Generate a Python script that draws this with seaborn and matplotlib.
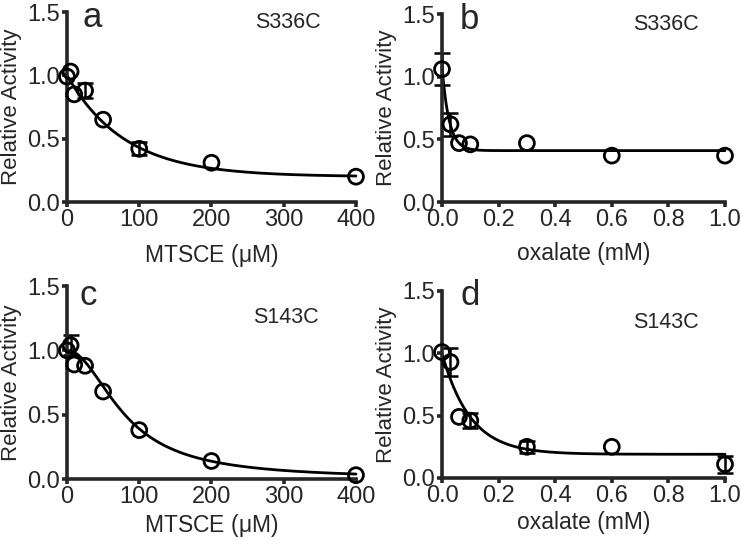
import numpy as np
import pandas as pd
import seaborn as sns
import matplotlib
matplotlib.use("Agg")
import matplotlib.pyplot as plt

mtsce_x = [0, 5, 10, 25, 50, 100, 200, 400]
oxalate_x = [0, 0.03, 0.06, 0.1, 0.3, 0.6, 1.0]

a_y = [0.99, 1.03, 0.85, 0.88, 0.65, 0.42, 0.31, 0.20]
a_err = [0.0, 0.0, 0.0, 0.06, 0.0, 0.05, 0.0, 0.0]

b_y = [1.06, 0.62, 0.47, 0.46, 0.47, 0.37, 0.37]
b_err = [0.13, 0.09, 0.0, 0.0, 0.0, 0.0, 0.0]

c_y = [1.00, 1.04, 0.89, 0.88, 0.68, 0.38, 0.14, 0.03]
c_err = [0.0, 0.08, 0.0, 0.0, 0.0, 0.0, 0.0, 0.0]

d_y = [1.01, 0.93, 0.49, 0.46, 0.25, 0.25, 0.11]
d_err = [0.0, 0.11, 0.0, 0.06, 0.05, 0.0, 0.07]

# fitted curve parameters (top, plateau, rate) read from the drawn fits
a_fit = (1.0, 0.20, 0.0125)
b_fit = (1.08, 0.41, 40.0)
c_fit = (80.0, 2.0)          # IC50, Hill slope
d_fit = (1.0, 0.19, 10.0)

panel_letters = ["a", "b", "c", "d"]
mutants = ["S336C", "S336C", "S143C", "S143C"]

sns.set_style("ticks")
plt.rcParams['font.family'] = ['Liberation Sans', 'DejaVu Sans']
plt.rcParams['mathtext.fontset'] = 'custom'
plt.rcParams['mathtext.rm'] = 'Liberation Sans'


def decay(x, fit):
    top, plateau, k = fit
    return plateau + (top - plateau) * np.exp(-k * x)


def hill(x, fit):
    ic50, n = fit
    return 1.0 / (1.0 + (x / ic50) ** n)


fig = plt.figure(figsize=(7.41, 5.41), dpi=100)
boxes = [
    [0.0904, 0.6266, 0.390, 0.3512],
    [0.5965, 0.6266, 0.3819, 0.3475],
    [0.0904, 0.1146, 0.390, 0.3567],
    [0.5965, 0.1165, 0.3819, 0.3457],
]

xs_m = np.linspace(0, 400, 400)
xs_o = np.linspace(0, 1.0, 400)
curves = [
    (xs_m, decay(xs_m, a_fit)),
    (xs_o, decay(xs_o, b_fit)),
    (xs_m, hill(xs_m, c_fit)),
    (xs_o, decay(xs_o, d_fit)),
]
points = [
    (mtsce_x, a_y, a_err),
    (oxalate_x, b_y, b_err),
    (mtsce_x, c_y, c_err),
    (oxalate_x, d_y, d_err),
]
letter_pos = [(0.055, 0.92), (0.064, 0.92), (0.045, 0.90), (0.064, 0.925)]
mutant_pos = [(0.65, 0.916), (0.675, 0.916), (0.645, 0.81), (0.675, 0.80)]

for i in range(4):
    ax = fig.add_axes(boxes[i])
    cx, cy = curves[i]
    px, py, pe = points[i]
    df = pd.DataFrame({"x": px, "y": py, "err": pe})
    sns.lineplot(x=cx, y=cy, ax=ax, color="black", lw=2.0, clip_on=False)
    eb = df[df["err"] > 0]
    ax.errorbar(eb["x"], eb["y"], yerr=eb["err"], fmt="none", ecolor="black",
                elinewidth=1.8, capsize=5.5, capthick=1.8, clip_on=False)
    sns.scatterplot(data=df, x="x", y="y", ax=ax, marker="o", s=115,
                    facecolor="none", edgecolor="black", linewidth=2.0,
                    clip_on=False, zorder=5)

    mtsce = i % 2 == 0
    if mtsce:
        ax.set_xlim(0, 400)
        ax.set_xticks([0, 100, 200, 300, 400])
        ax.set_xlabel(r"MTSCE ($\mathrm{\mu}$M)", fontsize=16.5,
                      labelpad=8 if i < 2 else 3)
    else:
        ax.set_xlim(0, 1.0)
        ax.set_xticks([0.0, 0.2, 0.4, 0.6, 0.8, 1.0])
        ax.set_xticklabels(["0.0", "0.2", "0.4", "0.6", "0.8", "1.0"])
        ax.set_xlabel("oxalate (mM)", fontsize=16.5,
                      labelpad=8 if i < 2 else 3)
    ax.set_ylim(0, 1.5)
    ax.set_yticks([0.0, 0.5, 1.0, 1.5])
    ax.set_yticklabels(["0.0", "0.5", "1.0", "1.5"])
    ax.set_ylabel("Relative Activity", fontsize=16, labelpad=4)

    for side in ["top", "right"]:
        ax.spines[side].set_visible(False)
    for side in ["left", "bottom"]:
        ax.spines[side].set_linewidth(2.6)
    ax.tick_params(width=2.6, length=3.5, pad=1.5, labelsize=17,
                   direction="out")
    ax.set_facecolor("none")

    lx, ly = letter_pos[i]
    ax.text(lx, ly, panel_letters[i], transform=ax.transAxes, fontsize=25,
            ha="left", va="baseline")
    mx, my = mutant_pos[i]
    ax.text(mx, my, mutants[i], transform=ax.transAxes, fontsize=15.5,
            ha="left", va="baseline")

fig.savefig("out.png", dpi=100, facecolor="white")
